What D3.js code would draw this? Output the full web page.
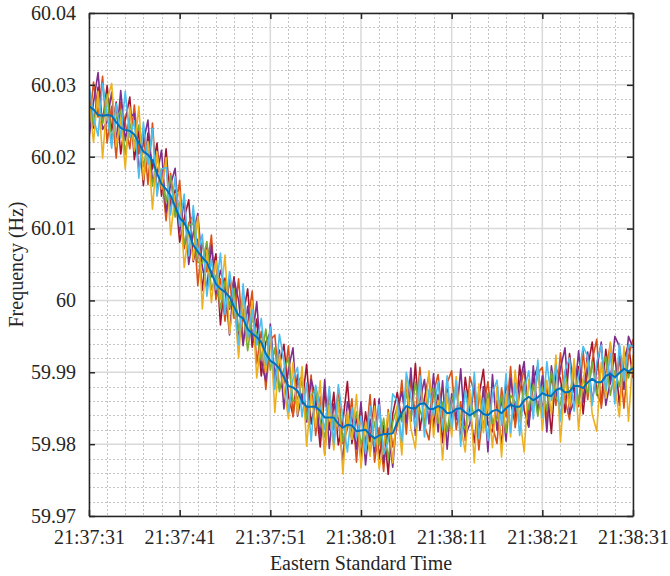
<!DOCTYPE html>
<html>
<head>
<meta charset="utf-8">
<script src="https://cdn.jsdelivr.net/npm/d3@7"></script>
<style>
  body { margin: 0; background: #fff; }
  svg text { font-family: "Liberation Serif", "Times New Roman", serif; fill: #262626; }
</style>
</head>
<body>
<svg id="plotSvg" width="670" height="576"></svg>
<script>
// time axis: one sample every half second from 21:37:31
const startTime = new Date(2021, 0, 1, 21, 37, 31);
const sampleStep = 0.5; // seconds
const xTickSeconds = [0, 10, 20, 30, 40, 50, 60];
const xTickLabels = ["21:37:31", "21:37:41", "21:37:51", "21:38:01", "21:38:11", "21:38:21", "21:38:31"];
const yTickValues = [59.97, 59.98, 59.99, 60, 60.01, 60.02, 60.03, 60.04];
const yTickLabels = ["59.97", "59.98", "59.99", "60", "60.01", "60.02", "60.03", "60.04"];

// frequency readings (Hz), one array per recorder
const freqDarkRed = [
  60.0286,60.0240,60.0297,60.0248,60.0299,60.0236,60.0276,60.0204,60.0251,60.0283,
  60.0196,60.0236,60.0160,60.0233,60.0183,60.0219,60.0145,60.0211,60.0129,60.0154,
  60.0081,60.0114,60.0140,60.0054,60.0085,60.0014,60.0078,60.0033,60.0065,59.9966,
  60.0031,59.9988,60.0033,59.9948,59.9979,60.0016,59.9935,59.9974,59.9895,59.9942,
  59.9955,59.9882,59.9909,59.9939,59.9867,59.9840,59.9897,59.9856,59.9911,59.9828,
  59.9860,59.9796,59.9874,59.9820,59.9872,59.9799,59.9831,59.9887,59.9801,59.9839,
  59.9779,59.9845,59.9803,59.9863,59.9779,59.9826,59.9758,59.9842,59.9872,59.9833,
  59.9880,59.9832,59.9912,59.9819,59.9864,59.9896,59.9824,59.9869,59.9802,59.9877,
  59.9832,59.9884,59.9813,59.9893,59.9846,59.9802,59.9866,59.9904,59.9827,59.9817,
  59.9861,59.9796,59.9884,59.9858,59.9829,59.9910,59.9847,59.9824,59.9889,59.9909,
  59.9847,59.9881,59.9815,59.9906,59.9891,59.9844,59.9926,59.9872,59.9908,59.9842,
  59.9906,59.9942,59.9872,59.9856,59.9932,59.9884,59.9926,59.9854,59.9918,59.9938,
  59.9892
];
const freqOrange = [
  60.0238,60.0304,60.0255,60.0312,60.0219,60.0270,60.0198,60.0276,60.0247,60.0211,
  60.0272,60.0204,60.0238,60.0161,60.0247,60.0155,60.0179,60.0111,60.0177,60.0120,
  60.0167,60.0072,60.0108,60.0118,60.0021,60.0082,60.0040,60.0091,60.0001,60.0030,
  59.9971,60.0030,59.9975,60.0030,59.9945,59.9968,60.0013,59.9912,59.9957,59.9876,
  59.9945,59.9952,59.9877,59.9885,59.9937,59.9838,59.9887,59.9894,59.9839,59.9896,
  59.9812,59.9866,59.9786,59.9874,59.9820,59.9877,59.9801,59.9821,59.9863,59.9775,
  59.9849,59.9799,59.9869,59.9775,59.9823,59.9762,59.9848,59.9796,59.9826,59.9889,
  59.9814,59.9892,59.9838,59.9907,59.9826,59.9806,59.9872,59.9897,59.9836,59.9885,
  59.9902,59.9820,59.9859,59.9805,59.9894,59.9872,59.9792,59.9850,59.9887,59.9825,
  59.9801,59.9878,59.9838,59.9908,59.9823,59.9872,59.9905,59.9838,59.9857,59.9899,
  59.9907,59.9833,59.9895,59.9854,59.9927,59.9862,59.9834,59.9914,59.9852,59.9930,
  59.9862,59.9916,59.9946,59.9850,59.9900,59.9940,59.9864,59.9922,59.9850,59.9922,
  59.9946
];
const freqPurple = [
  60.0226,60.0276,60.0317,60.0238,60.0249,60.0290,60.0220,60.0292,60.0223,60.0255,
  60.0260,60.0180,60.0220,60.0251,60.0165,60.0175,60.0209,60.0123,60.0161,60.0184,
  60.0095,60.0140,60.0050,60.0094,60.0121,60.0046,60.0018,60.0077,60.0009,60.0042,
  60.0019,59.9952,60.0029,60.0000,59.9937,59.9992,59.9945,59.9998,59.9913,59.9888,
  59.9967,59.9894,59.9931,59.9849,59.9905,59.9934,59.9839,59.9870,59.9831,59.9890,
  59.9866,59.9810,59.9890,59.9794,59.9856,59.9835,59.9775,59.9859,59.9835,59.9793,
  59.9859,59.9771,59.9835,59.9789,59.9863,59.9774,59.9822,59.9768,59.9846,59.9873,
  59.9830,59.9906,59.9812,59.9861,59.9890,59.9828,59.9898,59.9817,59.9888,59.9793,
  59.9870,59.9834,59.9905,59.9811,59.9828,59.9888,59.9814,59.9880,59.9789,59.9897,
  59.9819,59.9864,59.9804,59.9892,59.9845,59.9886,59.9915,59.9824,59.9909,59.9843,
  59.9895,59.9817,59.9909,59.9862,59.9905,59.9934,59.9842,59.9860,59.9930,59.9858,
  59.9928,59.9858,59.9904,59.9942,59.9854,59.9888,59.9950,59.9936,59.9876,59.9950,
  59.9934
];
const freqGreen = [
  60.0276,60.0244,60.0285,60.0246,60.0287,60.0224,60.0254,60.0264,60.0203,60.0247,
  60.0218,60.0244,60.0186,60.0217,60.0159,60.0201,60.0171,60.0137,60.0173,60.0116,
  60.0137,60.0078,60.0104,60.0108,60.0053,60.0052,60.0082,60.0015,60.0035,59.9988,
  60.0027,59.9990,60.0017,59.9958,59.9987,59.9930,59.9977,59.9952,59.9917,59.9960,
  59.9903,59.9934,59.9873,59.9905,59.9919,59.9860,59.9863,59.9888,59.9835,59.9868,
  59.9876,59.9832,59.9810,59.9856,59.9826,59.9861,59.9803,59.9839,59.9807,59.9845,
  59.9799,59.9825,59.9787,59.9831,59.9799,59.9836,59.9778,59.9830,59.9852,59.9831,
  59.9872,59.9834,59.9886,59.9847,59.9828,59.9868,59.9878,59.9829,59.9858,59.9817,
  59.9860,59.9880,59.9833,59.9821,59.9864,59.9838,59.9874,59.9822,59.9871,59.9829,
  59.9835,59.9868,59.9816,59.9868,59.9859,59.9832,59.9887,59.9848,59.9883,59.9839,
  59.9879,59.9847,59.9901,59.9864,59.9855,59.9900,59.9864,59.9910,59.9856,59.9890,
  59.9870,59.9914,59.9868,59.9906,59.9922,59.9868,59.9902,59.9880,59.9924,59.9892,
  59.9916
];
const freqYellow = [
  60.0282,60.0220,60.0291,60.0198,60.0279,60.0302,60.0214,60.0254,60.0183,60.0269,
  60.0208,60.0270,60.0168,60.0221,60.0127,60.0207,60.0155,60.0199,60.0091,60.0148,
  60.0151,60.0046,60.0098,60.0056,60.0117,59.9988,60.0070,59.9997,60.0055,60.0002,
  60.0063,59.9954,60.0003,59.9920,60.0005,59.9944,59.9999,59.9892,59.9947,59.9900,
  59.9959,59.9844,59.9925,59.9879,59.9835,59.9914,59.9841,59.9908,59.9797,59.9868,
  59.9824,59.9888,59.9784,59.9854,59.9792,59.9859,59.9759,59.9845,59.9807,59.9869,
  59.9767,59.9831,59.9783,59.9853,59.9766,59.9800,59.9844,59.9774,59.9854,59.9785,
  59.9892,59.9822,59.9794,59.9883,59.9838,59.9902,59.9810,59.9861,59.9778,59.9871,
  59.9810,59.9894,59.9825,59.9789,59.9874,59.9774,59.9884,59.9816,59.9863,59.9795,
  59.9881,59.9782,59.9870,59.9810,59.9903,59.9838,59.9789,59.9890,59.9851,59.9907,
  59.9819,59.9889,59.9841,59.9924,59.9803,59.9890,59.9852,59.9918,59.9820,59.9892,
  59.9916,59.9842,59.9818,59.9914,59.9864,59.9942,59.9880,59.9838,59.9936,59.9832,
  59.9924
];
const freqLightBlue = [
  60.0302,60.0254,60.0229,60.0302,60.0259,60.0212,60.0274,60.0226,60.0291,60.0227,
  60.0250,60.0170,60.0248,60.0189,60.0239,60.0145,60.0183,60.0185,60.0119,60.0172,
  60.0103,60.0148,60.0062,60.0132,60.0065,60.0092,60.0006,60.0057,60.0015,60.0066,
  59.9981,60.0040,59.9997,59.9938,60.0023,59.9948,59.9987,59.9938,59.9975,59.9910,
  59.9963,59.9876,59.9953,59.9915,59.9845,59.9890,59.9907,59.9838,59.9885,59.9804,
  59.9882,59.9850,59.9820,59.9880,59.9800,59.9883,59.9837,59.9789,59.9851,59.9809,
  59.9839,59.9787,59.9853,59.9797,59.9855,59.9786,59.9804,59.9870,59.9860,59.9803,
  59.9900,59.9866,59.9822,59.9895,59.9810,59.9876,59.9840,59.9887,59.9820,59.9895,
  59.9822,59.9888,59.9797,59.9875,59.9832,59.9900,59.9808,59.9864,59.9805,59.9871,
  59.9889,59.9826,59.9898,59.9816,59.9885,59.9812,59.9875,59.9902,59.9835,59.9917,
  59.9837,59.9915,59.9861,59.9910,59.9833,59.9902,59.9920,59.9846,59.9896,59.9936,
  59.9922,59.9854,59.9914,59.9938,59.9874,59.9926,59.9856,59.9940,59.9888,59.9938,
  59.9936
];
// filtered reference trace
const freqBlue = [
  60.0270,60.0266,60.0258,60.0257,60.0258,60.0257,60.0248,60.0240,60.0237,60.0236,
  60.0231,60.0219,60.0207,60.0203,60.0195,60.0177,60.0162,60.0155,60.0146,60.0131,
  60.0115,60.0108,60.0095,60.0077,60.0068,60.0060,60.0053,60.0038,60.0023,60.0016,
  60.0012,60.0005,59.9991,59.9979,59.9975,59.9960,59.9954,59.9949,59.9942,59.9926,
  59.9916,59.9912,59.9905,59.9893,59.9881,59.9879,59.9874,59.9860,59.9852,59.9852,
  59.9852,59.9846,59.9837,59.9837,59.9837,59.9828,59.9823,59.9827,59.9826,59.9818,
  59.9819,59.9820,59.9813,59.9808,59.9812,59.9814,59.9814,59.9815,59.9830,59.9844,
  59.9853,59.9850,59.9850,59.9856,59.9857,59.9849,59.9849,59.9853,59.9850,59.9843,
  59.9844,59.9849,59.9850,59.9844,59.9840,59.9844,59.9848,59.9842,59.9840,59.9846,
  59.9848,59.9843,59.9850,59.9855,59.9852,59.9852,59.9861,59.9866,59.9861,59.9865,
  59.9871,59.9868,59.9867,59.9875,59.9878,59.9872,59.9873,59.9881,59.9881,59.9878,
  59.9886,59.9891,59.9886,59.9886,59.9895,59.9898,59.9893,59.9899,59.9905,59.9901,
  59.9906
];

const seriesList = [
  { values: freqDarkRed, color: "#A2142F", width: 1.6 },
  { values: freqOrange, color: "#D95319", width: 1.6 },
  { values: freqPurple, color: "#7E2F8E", width: 1.6 },
  { values: freqGreen, color: "#77AC30", width: 1.6 },
  { values: freqYellow, color: "#EDB120", width: 1.6 },
  { values: freqLightBlue, color: "#4DBEEE", width: 1.6 },
  { values: freqBlue, color: "#0072BD", width: 2 }
];

var svg = d3.select("#plotSvg");
var margin = { top: 13, right: 37, bottom: 60, left: 89 };
var width = 670 - margin.left - margin.right;
var height = 576 - margin.top - margin.bottom;
var serif = "'Liberation Serif', 'Times New Roman', serif";

var secondsAfter = function (s) { return new Date(startTime.getTime() + s * 1000); };

var x = d3.scaleTime()
    .domain([secondsAfter(0), secondsAfter(60)])
    .range([0, width]);
var y = d3.scaleLinear()
    .domain([59.97, 60.04])
    .range([height, 0]);

var g = svg.append("g").attr("transform", "translate(" + margin.left + "," + margin.top + ")");

// minor grid (dotted), every 2 s and every 0.002 Hz
var minorX = d3.range(0, 61, 2).filter(function (s) { return s % 10 !== 0; });
var minorY = d3.range(0, 36).map(function (i) { return 59.97 + i * 0.002; })
    .filter(function (v, i) { return i % 5 !== 0; });

g.append("g").selectAll("line").data(minorX).enter().append("line")
    .attr("x1", function (d) { return Math.round(x(secondsAfter(d))) + 0.5; })
    .attr("x2", function (d) { return Math.round(x(secondsAfter(d))) + 0.5; })
    .attr("y1", 0).attr("y2", height)
    .attr("stroke", "#c4c4c4").attr("stroke-width", 1).attr("stroke-dasharray", "2,2");
g.append("g").selectAll("line").data(minorY).enter().append("line")
    .attr("y1", function (d) { return Math.round(y(d)) + 0.5; })
    .attr("y2", function (d) { return Math.round(y(d)) + 0.5; })
    .attr("x1", 0).attr("x2", width)
    .attr("stroke", "#c4c4c4").attr("stroke-width", 1).attr("stroke-dasharray", "2,2");

// major grid (solid)
g.append("g").selectAll("line").data(xTickSeconds).enter().append("line")
    .attr("x1", function (d) { return x(secondsAfter(d)); })
    .attr("x2", function (d) { return x(secondsAfter(d)); })
    .attr("y1", 0).attr("y2", height)
    .attr("stroke", "#d9d9d9").attr("stroke-width", 1.5);
g.append("g").selectAll("line").data(yTickValues).enter().append("line")
    .attr("y1", function (d) { return y(d); })
    .attr("y2", function (d) { return y(d); })
    .attr("x1", 0).attr("x2", width)
    .attr("stroke", "#d9d9d9").attr("stroke-width", 1.5);

// traces
svg.append("clipPath").attr("id", "plotClip")
    .append("rect").attr("width", width).attr("height", height);

var line = d3.line()
    .x(function (d, i) { return x(secondsAfter(i * sampleStep)); })
    .y(function (d) { return y(d); });

g.append("g").attr("clip-path", "url(#plotClip)")
    .selectAll("path")
    .data(seriesList)
    .enter().append("path")
    .attr("d", function (d) { return line(d.values); })
    .attr("fill", "none")
    .attr("stroke", function (d) { return d.color; })
    .attr("stroke-width", function (d) { return d.width; })
    .attr("stroke-linejoin", "round");

// axes, ticks pointing inward on all four sides
var xAxis = d3.axisBottom(x)
    .tickValues(xTickSeconds.map(secondsAfter))
    .tickFormat(function (d, i) { return xTickLabels[i]; })
    .tickSizeInner(-6).tickSizeOuter(0).tickPadding(14);
var yAxis = d3.axisLeft(y)
    .tickValues(yTickValues)
    .tickFormat(function (d, i) { return yTickLabels[i]; })
    .tickSizeInner(-6).tickSizeOuter(0).tickPadding(13);

var xg = g.append("g").attr("transform", "translate(0," + height + ")").call(xAxis);
var yg = g.append("g").call(yAxis);
var xTop = g.append("g").call(d3.axisTop(x).tickValues(xTickSeconds.map(secondsAfter))
    .tickFormat("").tickSizeInner(-6).tickSizeOuter(0));
var yRight = g.append("g").attr("transform", "translate(" + width + ",0)")
    .call(d3.axisRight(y).tickValues(yTickValues).tickFormat("").tickSizeInner(-6).tickSizeOuter(0));

[xg, yg, xTop, yRight].forEach(function (a) {
    a.attr("font-family", null);
    a.select(".domain").attr("stroke", "#262626").attr("stroke-width", 1.5);
    a.selectAll(".tick line").attr("stroke", "#262626").attr("stroke-width", 1.5);
    a.selectAll("text")
        .style("font-family", serif)
        .style("font-size", "20px")
        .attr("fill", "#262626");
});
xg.selectAll(".tick text").attr("dy", "0.71em");

g.append("text")
    .attr("x", width / 2)
    .attr("y", height + 54)
    .attr("text-anchor", "middle")
    .style("font-family", serif)
    .style("font-size", "20px")
    .text("Eastern Standard Time");

g.append("text")
    .attr("transform", "translate(" + (-66) + "," + (height / 2) + ") rotate(-90)")
    .attr("text-anchor", "middle")
    .style("font-family", serif)
    .style("font-size", "20px")
    .text("Frequency (Hz)");
</script>
</body>
</html>
